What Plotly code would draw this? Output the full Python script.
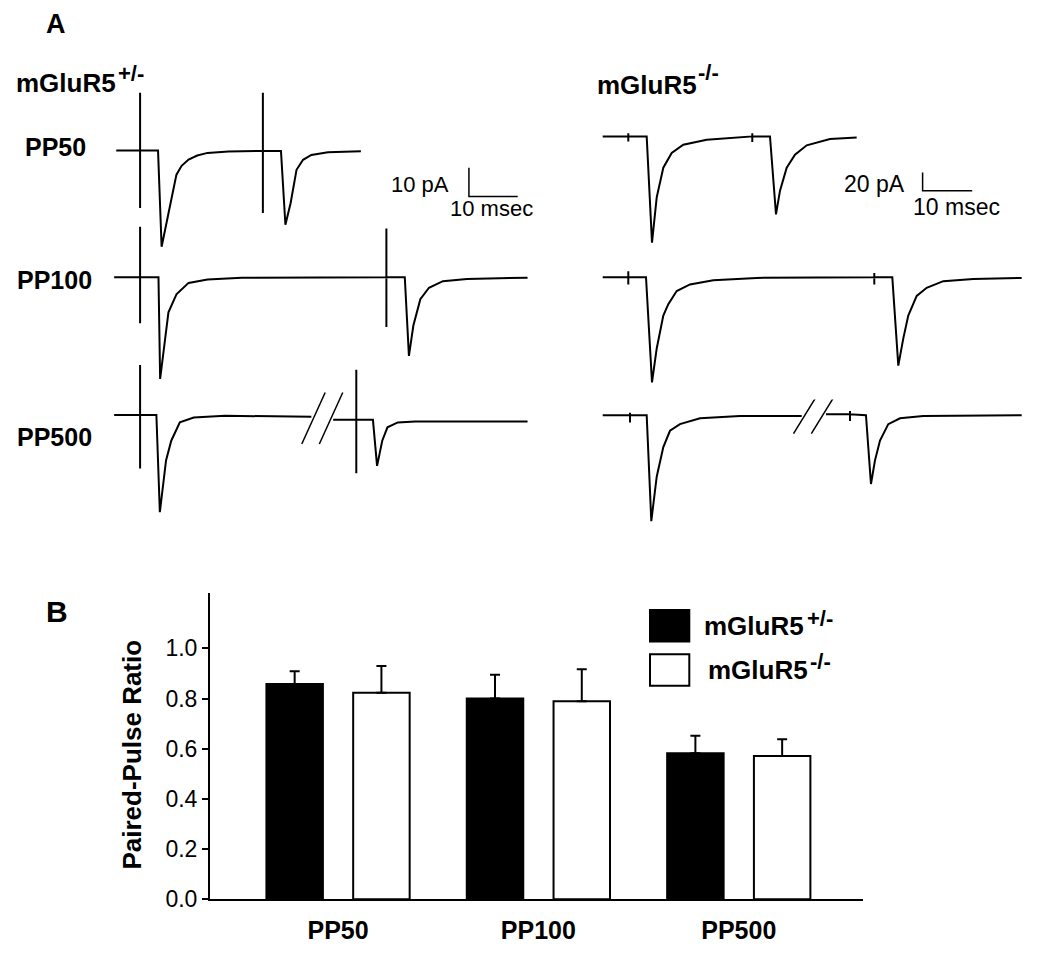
import plotly.graph_objects as go

W, H = 1050, 956

# ---- panel A: example EPSC traces, time in ms, current in pA
# mGluR5 +/-
het_pp50_t = [0, 4.89, 4.89, 4.89, 4.89, 8.57, 9.30, 10.64, 12.34, 13.40, 14.83, 16.60, 18.72, 22.98,
              30.06, 30.06, 30.06, 30.06, 33.77, 34.68, 35.74, 36.96, 38.30, 40.0, 43.40, 50.15]
het_pp50_i = [0, 0, 20.2, -20.1, 0, 0, -33.6, -22.5, -8.4, -5.3, -3.1, -1.7, -0.8, -0.3,
              -0.1, 20.2, -21.8, -0.1, -0.1, -25.9, -18.4, -6.7, -3.2, -1.5, -0.6, -0.2]

het_pp100_t = [-0.43, 4.89, 4.89, 4.89, 4.89, 8.66, 9.0, 10.70, 12.34, 14.83, 18.72, 25.74,
               55.38, 55.38, 55.38, 55.38, 59.15, 60.0, 60.91, 62.34, 64.11, 66.96, 71.91, 84.32]
het_pp100_i = [0, 0, 17.6, -16.1, 0, 0, -35.6, -12.3, -6.0, -2.0, -0.8, -0.2,
               0, 17.0, -17.4, 0, 0, -27.5, -16.9, -7.7, -3.7, -1.4, -0.6, -0.2]

# None = break in the time axis ( // )
het_pp500_t = [-0.43, 4.89, 4.89, 4.89, 4.89, 8.23, 8.94, 10.21, 11.28, 13.04, 15.89, 22.28, 40.0, None,
               44.47, 49.21, 49.21, 49.21, 49.21, 52.62, 53.47, 54.53, 55.60, 57.72, 61.28, 84.32]
het_pp500_i = [0, 0, 17.5, -18.7, 0, 0, -34.0, -15.9, -9.0, -2.6, -0.9, -0.3, -0.6, None,
               -1.7, -1.7, 15.8, -20.4, -1.7, -1.7, -17.8, -9.0, -4.3, -2.6, -2.3, -2.3]

# mGluR5 -/-
ko_pp50_t = [0, 5.16, 5.16, 5.16, 5.16, 8.87, 9.94, 10.89, 12.22, 13.91, 16.25, 20.97, 27.68,
             30.16, 30.16, 30.16, 30.16, 33.73, 34.94, 35.75, 37.10, 38.77, 41.13, 45.83, 51.21]
ko_pp50_i = [0, 0, 3.6, -5.5, 0, 0, -117.4, -67.3, -34.6, -18.2, -9.2, -3.7, -1.1,
             0, 3.6, -6.2, 0, 0, -86.2, -60.0, -34.6, -20.1, -9.8, -2.9, -1.1]

ko_pp100_t = [0, 5.16, 5.16, 5.16, 5.16, 8.73, 9.94, 10.89, 12.22, 13.23, 14.92, 17.60, 22.30, 31.05,
              54.76, 54.76, 54.76, 54.76, 58.39, 59.60, 60.60, 61.61, 63.31, 65.32, 68.67, 74.72, 84.48]
ko_pp100_i = [0, 0, 6.5, -8.0, 0, 0, -116.4, -78.8, -42.5, -29.8, -15.3, -8.0, -3.3, -0.8,
              0, 4.7, -8.0, 0, 0, -97.8, -67.9, -42.5, -20.7, -11.7, -4.4, -1.9, -0.8]

ko_pp500_t = [0, 5.50, 5.50, 5.50, 5.50, 8.87, 9.80, 10.89, 12.22, 13.57, 15.58, 19.62, 27.68, 40.12, None,
              45.02, 49.86, 49.86, 49.86, 49.86, 53.08, 54.09, 54.90, 55.91, 57.58, 59.94, 64.64, 84.48]
ko_pp500_i = [0, 0, 2.9, -8.0, 0, 0, -117.0, -67.9, -35.2, -17.1, -9.8, -3.3, -0.8, -0.8, None,
              1.1, 1.1, 4.7, -6.2, 1.1, 0, -76.0, -49.8, -28.0, -9.8, -3.3, -0.8, 0]

# scale bars (ms, pA)
het_scale = (10, 10)
ko_scale = (10, 20)

# ---- panel B: paired-pulse ratio, mean and SEM
intervals = ["PP50", "PP100", "PP500"]
het_ppr = [0.858, 0.800, 0.582]
het_sem = [0.051, 0.095, 0.070]
ko_ppr = [0.823, 0.789, 0.571]
ko_sem = [0.107, 0.128, 0.067]
gene = "mGluR5"
genotypes = ["+/-", "-/-"]

FONT = "Liberation Sans, Arial, sans-serif"


def px(x):
    return x / W


def py(y):
    return 1 - y / H


fig = go.Figure()
layout = {}
line = dict(color="black", width=2)

# column: x pixel span, time range ; rows: y pixel span, current range
columns = {
    "het": dict(xpx=(103.8, 550.1), rng=(-2.55, 88.94), brk=(1.8, 2.4, 9.0),
                rows=[((85, 260), (-37.0, 23.34)), ((222, 392), (-38.28, 20.34)), ((362, 525), (-35.97, 20.24))],
                data=[(het_pp50_t, het_pp50_i), (het_pp100_t, het_pp100_i), (het_pp500_t, het_pp500_i)]),
    "ko": dict(xpx=(590, 1040), rng=(-2.56, 88.17), brk=(1.8, 2.3, 20.5),
               rows=[((120, 255), (-127.26, 19.96)), ((265, 395), (-124.3, 17.45)), ((405, 535), (-124.3, 17.45))],
               data=[(ko_pp50_t, ko_pp50_i), (ko_pp100_t, ko_pp100_i), (ko_pp500_t, ko_pp500_i)]),
}

n = 2
axis_ids = {}
for key, col in columns.items():
    for r, ((ytop, ybot), yr) in enumerate(col["rows"]):
        t, cur = col["data"][r]
        xa, ya = "x%d" % n, "y%d" % n
        axis_ids[(key, r)] = (xa, ya)
        fig.add_trace(go.Scatter(x=t, y=cur, mode="lines", line=line, xaxis=xa, yaxis=ya,
                                 hoverinfo="skip", showlegend=False))
        # break marks between the two segments
        if None in t:
            k = t.index(None)
            mid = (t[k - 1] + t[k + 1]) / 2
            imid = (cur[k - 1] + cur[k + 1]) / 2
            sep, dx, dy = col["brk"]
            bx, by = [], []
            for c in (mid - sep, mid + sep):
                bx += [c - dx, c + dx, None]
                by += [imid - dy, imid + dy, None]
            fig.add_trace(go.Scatter(x=bx, y=by, mode="lines", line=dict(color="black", width=1.5),
                                     xaxis=xa, yaxis=ya, hoverinfo="skip", showlegend=False))
        layout["xaxis%d" % n] = dict(domain=[px(col["xpx"][0]), px(col["xpx"][1])], range=list(col["rng"]),
                                     visible=False, anchor=ya, fixedrange=True)
        layout["yaxis%d" % n] = dict(domain=[py(ybot), py(ytop)], range=list(yr),
                                     visible=False, anchor=xa, fixedrange=True)
        n += 1

# scale bars drawn in the data units of the PP50 panels
for key, scale, corner in (("het", het_scale, (72.3, -16.0)), ("ko", ko_scale, (64.5, -60.0))):
    xa, ya = axis_ids[(key, 0)]
    ms, pa = scale
    fig.add_trace(go.Scatter(x=[corner[0], corner[0], corner[0] + ms],
                             y=[corner[1] + pa, corner[1], corner[1]],
                             mode="lines", line=dict(color="black", width=1.5),
                             xaxis=xa, yaxis=ya, hoverinfo="skip", showlegend=False))

# ---- bar chart
fills = ["black", "white"]
for g, vals, sem, fill in zip(genotypes, (het_ppr, ko_ppr), (het_sem, ko_sem), fills):
    fig.add_trace(go.Bar(
        x=intervals, y=vals, name="%s %s" % (gene, g),
        marker=dict(color=fill, line=dict(color="black", width=2)),
        error_y=dict(type="data", array=sem, arrayminus=[0] * len(sem), symmetric=False,
                     color="black", thickness=2, width=5),
        showlegend=False, hoverinfo="skip"))

layout["xaxis"] = dict(domain=[px(210), px(863)], range=[-0.639, 2.62], type="category",
                       showline=True, linewidth=2, linecolor="black", ticks="",
                       tickfont=dict(size=25, weight="bold", color="black"),
                       showgrid=False, zeroline=False, anchor="y", ticklabelstandoff=8)
layout["yaxis"] = dict(domain=[py(911.7), py(600.7)], range=[0, 1.2225],
                       tickvals=[0, 0.2, 0.4, 0.6, 0.8, 1.0], tickformat=".1f",
                       ticks="outside", ticklen=6, tickwidth=2, tickcolor="black",
                       showline=True, linewidth=2, linecolor="black",
                       tickfont=dict(size=23, color="black"),
                       showgrid=False, zeroline=False, anchor="x")

ann = []


def text(s, x, y, size, bold=True, xanchor="left", angle=0):
    ann.append(dict(text=("<b>%s</b>" % s) if bold else s, x=px(x), y=py(y), xref="paper", yref="paper",
                    xanchor=xanchor, yanchor="middle", showarrow=False, textangle=angle,
                    font=dict(size=size, color="black", family=FONT)))


def label(g, x, y, sup_x, sup_y):
    # gene name with a large genotype superscript
    text(gene, x, y, 26)
    text(g, sup_x, sup_y, 22)


text("A", 56, 24, 27, xanchor="center")
text("B", 56.5, 619.5, 30, xanchor="center")
label(genotypes[0], 14, 84, 116, 75)
label(genotypes[1], 595, 86, 696, 74)
for lab, x, y in (("PP50", 23, 149), ("PP100", 15, 284.3), ("PP500", 15, 442.7)):
    text(lab, x, y, 25)
text("%d pA" % het_scale[1], 451, 186.7, 22, bold=False, xanchor="right")
text("%d msec" % het_scale[0], 448, 211, 22, bold=False)
text("%d pA" % ko_scale[1], 907, 186.7, 23, bold=False, xanchor="right")
text("%d msec" % ko_scale[0], 911, 210, 23, bold=False)
text("Paired-Pulse Ratio", 132, 765, 26, xanchor="center", angle=-90)

# legend drawn by hand
shapes = []
for k, (g, fill) in enumerate(zip(genotypes, fills)):
    top = 618.3 + k * 45
    shapes.append(dict(type="rect", xref="paper", yref="paper", x0=px(650), x1=px(689.3),
                       y0=py(top + 32), y1=py(top), fillcolor=fill, line=dict(color="black", width=2)))
    label(g, 702 + k * 4, top + 16, 805 + k * 3, top + 8.5 - k * 1.5)

fig.update_layout(**layout)
fig.update_layout(width=W, height=H, margin=dict(l=0, r=0, t=0, b=0),
                  paper_bgcolor="white", plot_bgcolor="rgba(0,0,0,0)",
                  font=dict(family=FONT, color="black"),
                  barmode="group", bargap=0.134, bargroupgap=0.349,
                  annotations=ann, shapes=shapes, showlegend=False)

fig.write_html("out.html", config={"displayModeBar": False},
               post_script="document.body.style.margin='0';")
